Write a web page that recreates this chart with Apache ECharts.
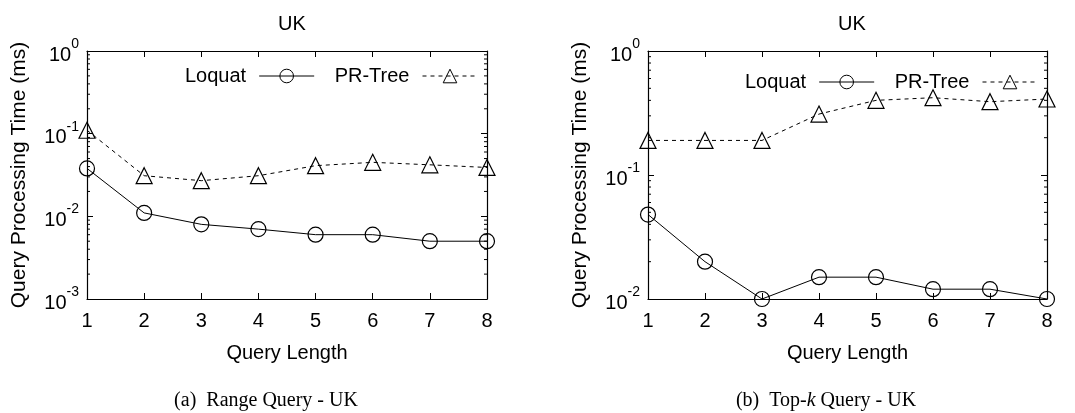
<!DOCTYPE html>
<html>
<head>
<meta charset="utf-8">
<script src="https://cdn.jsdelivr.net/npm/echarts@6/dist/echarts.min.js"></script>
<style>
  html, body { margin: 0; padding: 0; background: #fff; }
  #chart { width: 1075px; height: 413px; }
</style>
</head>
<body>
<div id="chart"></div>
<script>
// query lengths on the x axis
var queryLength = [1, 2, 3, 4, 5, 6, 7, 8];

// (a) range query - UK
var rangeLoquat = [0.038, 0.011, 0.008, 0.007, 0.006, 0.006, 0.005, 0.005];
var rangePRTree = [0.11, 0.031, 0.027, 0.031, 0.041, 0.045, 0.042, 0.039];

// (b) top-k query - UK
var topkLoquat = [0.048, 0.02, 0.01, 0.015, 0.015, 0.012, 0.012, 0.01];
var topkPRTree = [0.19, 0.19, 0.19, 0.31, 0.40, 0.42, 0.39, 0.41];

// log axis minor ticks (2..9 in each decade)
var minorMantissa = [2, 3, 4, 5, 6, 7, 8, 9];
var decadesA = [0.001, 0.01, 0.1];
var decadesB = [0.01, 0.1];

var FONT = '"Liberation Sans", Arial, sans-serif';
var SERIF = '"Liberation Serif", "Times New Roman", serif';

function pairs(ys) {
	var out = [];
	for (var i = 0; i < queryLength.length; i++) out.push([queryLength[i], ys[i]]);
	return out;
}
function minorTicks(decades) {
	var out = [];
	for (let d of decades) {
		for (let m of minorMantissa) out.push([1, +(m * d).toPrecision(3)]);
	}
	return out;
}

var myChart = echarts.init(document.getElementById('chart'));

function xAxes(grid) {
	return [{
		type: 'value', gridIndex: grid, min: 1, max: 8, interval: 1,
		position: 'bottom',
		name: 'Query Length', nameLocation: 'middle', nameGap: 44,
		nameTextStyle: { fontFamily: FONT, fontSize: 20, color: '#000' },
		axisLine: { lineStyle: { color: '#000', width: 1.2 } },
		axisTick: { inside: true, length: 6, lineStyle: { color: '#000' } },
		axisLabel: { fontFamily: FONT, fontSize: 20, color: '#000', margin: 12 },
		splitLine: { show: false }
	}, {
		type: 'value', gridIndex: grid, min: 1, max: 8, interval: 1,
		position: 'top',
		axisLine: { lineStyle: { color: '#000', width: 1.2 } },
		axisTick: { inside: true, length: 6, lineStyle: { color: '#000' } },
		axisLabel: { show: false },
		splitLine: { show: false }
	}];
}

function yAxes(grid, min) {
	return [{
		type: 'log', gridIndex: grid, min: min, max: 1, logBase: 10,
		position: 'left',
		name: 'Query Processing Time (ms)', nameLocation: 'middle', nameGap: 57,
		nameTextStyle: { fontFamily: FONT, fontSize: 21, color: '#000' },
		axisLine: { show: true, lineStyle: { color: '#000', width: 1.2 } },
		axisTick: { inside: true, length: 6, lineStyle: { color: '#000' } },
		axisLabel: {
			color: '#000', margin: 8,
			formatter: function (v) {
				return '{b|10}{s|' + Math.round(Math.log10(v)) + '}';
			},
			rich: {
				b: { fontFamily: FONT, fontSize: 20, color: '#000', padding: [8, 0, 0, 0] },
				s: { fontFamily: FONT, fontSize: 14, color: '#000', verticalAlign: 'top', padding: [0, 0, 10, 0] }
			}
		},
		splitLine: { show: false }
	}, {
		type: 'log', gridIndex: grid, min: min, max: 1, logBase: 10,
		position: 'right',
		axisLine: { show: true, lineStyle: { color: '#000', width: 1.2 } },
		axisTick: { inside: true, length: 6, lineStyle: { color: '#000' } },
		axisLabel: { show: false },
		splitLine: { show: false }
	}];
}

function lineSeries(name, ys, xi, yi, dashed, symbol) {
	return {
		name: name, type: 'line', xAxisIndex: xi, yAxisIndex: yi,
		data: pairs(ys),
		symbol: symbol, symbolSize: symbol === 'circle' ? 15 : 16,
		clip: false,
		lineStyle: { color: '#000', width: 1, type: dashed ? [4, 4] : 'solid' },
		itemStyle: { color: 'rgba(0,0,0,0)', borderColor: '#000', borderWidth: 1.2 },
		emphasis: { disabled: true },
		z: 3
	};
}

function minorSeries(decades, xi, yi) {
	return {
		type: 'custom', xAxisIndex: xi, yAxisIndex: yi,
		data: minorTicks(decades),
		silent: true,
		renderItem: function (params, api) {
			var v = api.value(1);
			var p = api.coord([1, v]);
			var q = api.coord([8, v]);
			return {
				type: 'group',
				children: [
					{ type: 'line', shape: { x1: p[0], y1: p[1], x2: p[0] + 3, y2: p[1] }, style: { stroke: '#000', lineWidth: 1 } },
					{ type: 'line', shape: { x1: q[0] - 3, y1: q[1], x2: q[0], y2: q[1] }, style: { stroke: '#000', lineWidth: 1 } }
				]
			};
		}
	};
}

function legend(left, top) {
	return {
		left: left, top: top, align: 'right', orient: 'horizontal',
		itemWidth: 55, itemHeight: 17, itemGap: 20,
		data: ['Loquat', 'PR-Tree'],
		lineStyle: { width: 1 },
		itemStyle: { borderWidth: 1 },
		textStyle: { fontFamily: FONT, fontSize: 20, color: '#000', padding: [0, 8, 0, 0] },
		selectedMode: false
	};
}

var option = {
	animation: false,
	backgroundColor: '#fff',
	title: [
		{ text: 'UK', left: 287, top: 9, textAlign: 'center', textStyle: { fontFamily: FONT, fontSize: 20, fontWeight: 'normal', color: '#000' } },
		{ text: 'UK', left: 847, top: 9, textAlign: 'center', textStyle: { fontFamily: FONT, fontSize: 20, fontWeight: 'normal', color: '#000' } },
		{ text: '(a)  Range Query - UK', left: 261, top: 386, textAlign: 'center', textStyle: { fontFamily: SERIF, fontSize: 20, fontWeight: 'normal', color: '#000' } },
		{
			text: '{a|(b)  Top-}{i|k}{a| Query - UK}', left: 821, top: 386, textAlign: 'center',
			textStyle: {
				fontFamily: SERIF, fontSize: 20, fontWeight: 'normal', color: '#000',
				rich: {
					a: { fontFamily: SERIF, fontSize: 20, color: '#000' },
					i: { fontFamily: SERIF, fontSize: 20, color: '#000', fontStyle: 'italic' }
				}
			}
		}
	],
	legend: [legend(180, 61), legend(740, 67)],
	grid: [
		{ left: 87, top: 51, width: 400, height: 248 },
		{ left: 648, top: 51, width: 399, height: 248 }
	],
	xAxis: xAxes(0).concat(xAxes(1)),
	yAxis: yAxes(0, 0.001).concat(yAxes(1, 0.01)),
	series: [
		lineSeries('Loquat', rangeLoquat, 0, 0, false, 'circle'),
		lineSeries('PR-Tree', rangePRTree, 0, 0, true, 'triangle'),
		lineSeries('Loquat', topkLoquat, 2, 2, false, 'circle'),
		lineSeries('PR-Tree', topkPRTree, 2, 2, true, 'triangle'),
		minorSeries(decadesA, 0, 0),
		minorSeries(decadesB, 2, 2)
	]
};

myChart.setOption(option);
</script>
</body>
</html>
